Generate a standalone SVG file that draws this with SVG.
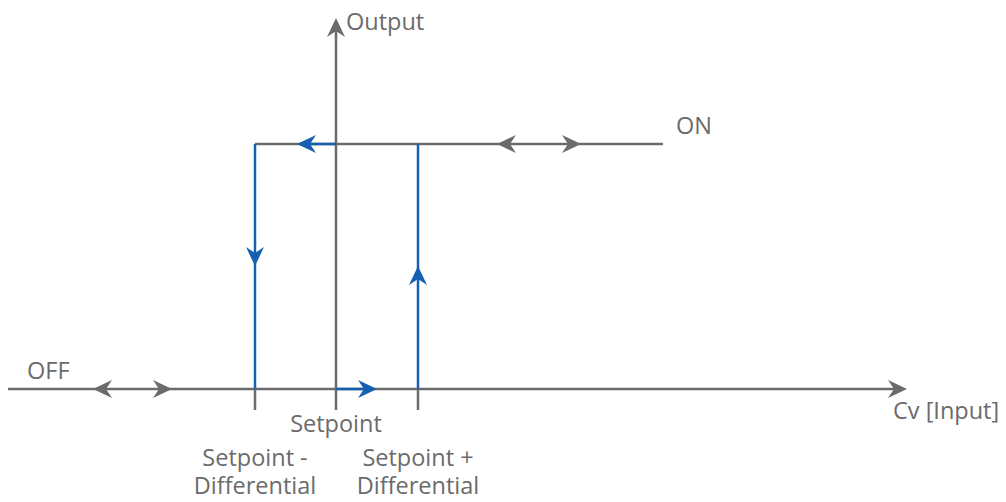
<svg xmlns="http://www.w3.org/2000/svg" width="1006" height="502" viewBox="0 0 1006 502">
<style>
.ax{stroke:#6b6b6b;stroke-width:2.5;fill:none}
.bl{stroke:#1560b0;stroke-width:2.5;fill:none}
.ga{fill:#6b6b6b}
.ba{fill:#1560b0}
text{font-family:"Open Sans","Liberation Sans",sans-serif;font-size:23.5px;fill:#6b6b6b}
</style>
<defs>
<path id="ah" d="M0,0 L-19,-9 L-13,0 L-19,9 Z"/>
</defs>
<rect width="1006" height="502" fill="#fff"/>
<g id="connectors">
<line class="ax" x1="8" y1="389" x2="900" y2="389"/>
<line class="ax" x1="336" y1="410" x2="336" y2="24"/>
<line class="ax" x1="255" y1="144" x2="663" y2="144"/>
<line class="ax" x1="255" y1="389" x2="255" y2="410"/>
<line class="ax" x1="418" y1="389" x2="418" y2="410"/>
<line class="bl" x1="336" y1="144" x2="300" y2="144"/>
<line class="bl" x1="255" y1="144" x2="255" y2="389"/>
<line class="bl" x1="336" y1="389" x2="372" y2="389"/>
<line class="bl" x1="418" y1="389" x2="418" y2="144"/>
<use href="#ah" class="ga" transform="translate(907,389)"/>
<use href="#ah" class="ga" transform="translate(336,18) rotate(-90)"/>
<use href="#ah" class="ga" transform="translate(497,144) rotate(180)"/>
<use href="#ah" class="ga" transform="translate(581,144)"/>
<use href="#ah" class="ga" transform="translate(93,389) rotate(180)"/>
<use href="#ah" class="ga" transform="translate(172,389)"/>
<use href="#ah" class="ba" transform="translate(297,144) rotate(180)"/>
<use href="#ah" class="ba" transform="translate(377,389)"/>
<use href="#ah" class="ba" transform="translate(255,266) rotate(90)"/>
<use href="#ah" class="ba" transform="translate(418,266) rotate(-90)"/>
</g>
<g id="labels">
<text x="346" y="30">Output</text>
<text x="676" y="134">ON</text>
<text x="27" y="379">OFF</text>
<text x="893" y="419">Cv [Input]</text>
<text x="336" y="432" text-anchor="middle">Setpoint</text>
<text x="255" y="466" text-anchor="middle">Setpoint -</text>
<text x="255" y="494" text-anchor="middle">Differential</text>
<text x="418" y="466" text-anchor="middle">Setpoint +</text>
<text x="418" y="494" text-anchor="middle">Differential</text>
</g>
</svg>
